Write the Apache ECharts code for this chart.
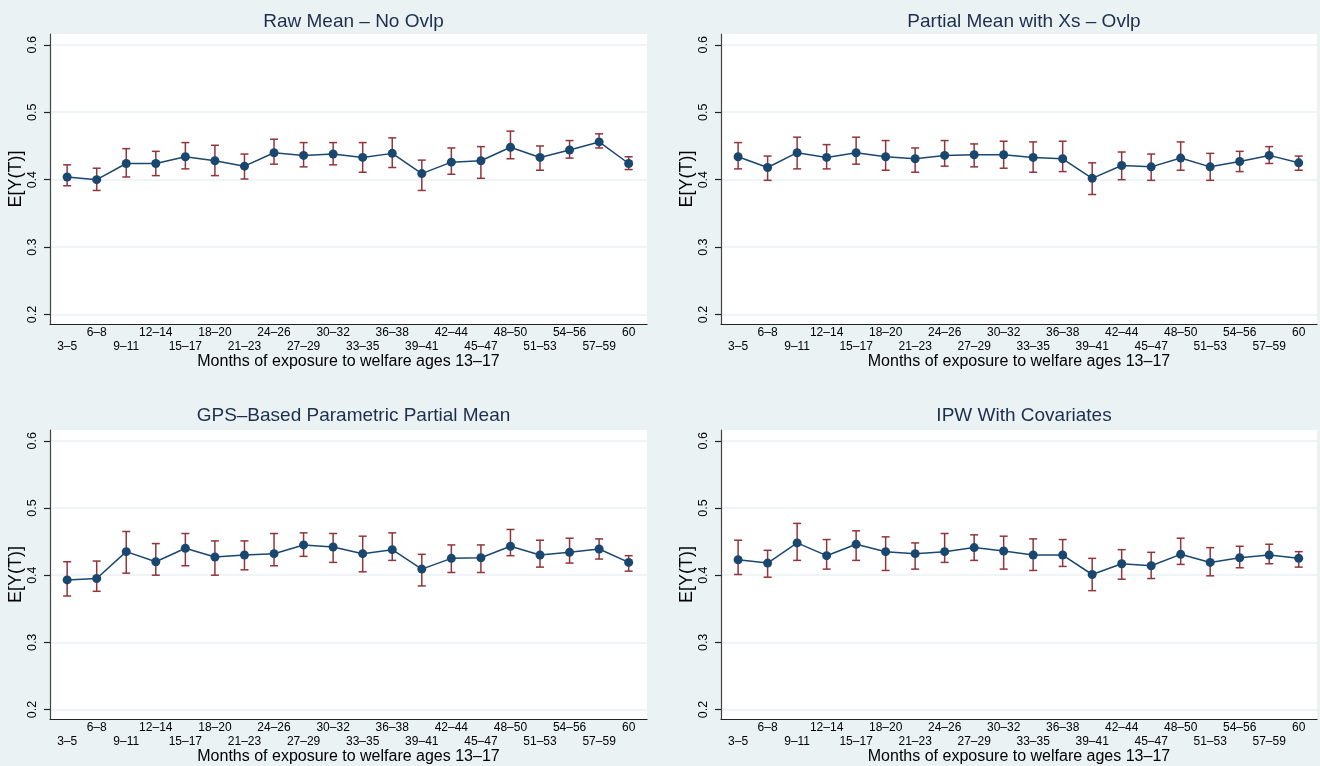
<!DOCTYPE html>
<html>
<head>
<meta charset="utf-8">
<script src="https://cdn.jsdelivr.net/npm/echarts@6/dist/echarts.min.js"></script>
<style>
html,body{margin:0;padding:0;background:#eaf2f3;}
#chart{width:1320px;height:766px;}
</style>
</head>
<body>
<div id="chart"></div>
<script>
const categories = ['3–5','6–8','9–11','12–14','15–17','18–20','21–23','24–26','27–29','30–32','33–35','36–38','39–41','42–44','45–47','48–50','51–53','54–56','57–59','60'];
const yTicks = [0.2, 0.3, 0.4, 0.5, 0.6];
const titles = ['Raw Mean – No Ovlp', 'Partial Mean with Xs – Ovlp', 'GPS–Based Parametric Partial Mean', 'IPW With Covariates'];
const xTitle = 'Months of exposure to welfare ages 13–17';
const yTitle = 'E[Y(T)]';

const rawMean = [0.404,0.400,0.424,0.424,0.434,0.428,0.420,0.440,0.436,0.438,0.433,0.439,0.409,0.426,0.428,0.448,0.433,0.444,0.456,0.424];
const rawLo   = [0.391,0.384,0.404,0.406,0.416,0.406,0.401,0.423,0.419,0.422,0.411,0.418,0.384,0.408,0.402,0.431,0.414,0.432,0.447,0.415];
const rawHi   = [0.422,0.417,0.446,0.442,0.455,0.451,0.438,0.460,0.455,0.455,0.455,0.462,0.429,0.447,0.449,0.472,0.450,0.458,0.468,0.434];

const pmMean = [0.434,0.418,0.440,0.433,0.440,0.434,0.431,0.436,0.437,0.437,0.433,0.431,0.402,0.421,0.419,0.432,0.419,0.427,0.436,0.425];
const pmLo   = [0.416,0.399,0.416,0.416,0.423,0.414,0.411,0.420,0.419,0.417,0.411,0.412,0.378,0.400,0.399,0.414,0.399,0.412,0.424,0.414];
const pmHi   = [0.455,0.435,0.463,0.452,0.463,0.458,0.447,0.458,0.453,0.457,0.456,0.457,0.425,0.441,0.438,0.456,0.439,0.442,0.449,0.435];

const gpsMean = [0.393,0.395,0.435,0.420,0.440,0.427,0.430,0.432,0.445,0.442,0.432,0.438,0.409,0.425,0.426,0.443,0.430,0.434,0.439,0.419];
const gpsLo   = [0.369,0.376,0.403,0.400,0.414,0.400,0.408,0.414,0.428,0.419,0.405,0.422,0.384,0.404,0.404,0.429,0.412,0.418,0.424,0.406];
const gpsHi   = [0.420,0.421,0.465,0.447,0.462,0.451,0.451,0.462,0.463,0.462,0.458,0.463,0.431,0.445,0.445,0.468,0.452,0.455,0.454,0.429];

const ipwMean = [0.423,0.418,0.448,0.429,0.446,0.435,0.432,0.435,0.441,0.436,0.430,0.430,0.401,0.417,0.414,0.431,0.419,0.426,0.430,0.425];
const ipwLo   = [0.401,0.397,0.422,0.409,0.422,0.407,0.409,0.419,0.422,0.409,0.407,0.413,0.377,0.394,0.395,0.416,0.399,0.411,0.417,0.412];
const ipwHi   = [0.452,0.437,0.477,0.453,0.466,0.457,0.448,0.462,0.460,0.458,0.454,0.453,0.425,0.438,0.434,0.455,0.441,0.443,0.446,0.435];

const panels = [
  {mean: rawMean, lo: rawLo, hi: rawHi},
  {mean: pmMean, lo: pmLo, hi: pmHi},
  {mean: gpsMean, lo: gpsLo, hi: gpsHi},
  {mean: ipwMean, lo: ipwLo, hi: ipwHi}
];

const FONT = '"Liberation Sans", Arial, sans-serif';
const NAVY = '#1a476f';
const MAROON = '#90353b';
const BG = '#eaf2f3';

const layout = [
  {left: 50, top: 34, width: 597, height: 290, titleTop: 7},
  {left: 721, top: 34, width: 596, height: 290, titleTop: 7},
  {left: 50, top: 430, width: 597, height: 289, titleTop: 401},
  {left: 721, top: 430, width: 596, height: 289, titleTop: 401}
];

const xIdx = categories.map((c, i) => i);

const option = {
  backgroundColor: BG,
  animation: false,
  title: layout.map((g, i) => ({
    text: titles[i],
    left: g.left + g.width / 2,
    top: g.titleTop,
    textAlign: 'center',
    textStyle: {fontFamily: FONT, fontSize: 19, fontWeight: 'normal', color: '#1e2e4e'}
  })),
  grid: layout.map(g => ({
    left: g.left, top: g.top, width: g.width, height: g.height,
    show: true, backgroundColor: '#ffffff', borderWidth: 0
  })),
  xAxis: layout.map((g, i) => ({
    type: 'value', gridIndex: i, min: -0.58, max: 19.62,
    name: xTitle, nameLocation: 'middle', nameGap: 28,
    nameTextStyle: {fontFamily: FONT, fontSize: 16, color: '#000'},
    axisLine: {show: true, onZero: false, lineStyle: {color: '#222', width: 1.2}},
    axisTick: {show: false},
    splitLine: {show: false},
    axisLabel: {
      customValues: xIdx,
      margin: 2,
      fontFamily: FONT, fontSize: 12, color: '#000', lineHeight: 13.5,
      formatter: v => {
        const k = Math.round(v);
        return k % 2 === 0 ? '\n' + categories[k] : categories[k];
      }
    }
  })),
  yAxis: layout.map((g, i) => ({
    type: 'value', gridIndex: i, min: 0.186, max: 0.616,
    name: yTitle, nameLocation: 'middle', nameGap: 23,
    nameTextStyle: {fontFamily: FONT, fontSize: 18, color: '#000'},
    axisLine: {show: true, onZero: false, lineStyle: {color: '#444', width: 1.2}},
    axisTick: {show: true, customValues: yTicks, length: 6, lineStyle: {color: '#222', width: 1.2}},
    splitLine: {show: true, customValues: yTicks, lineStyle: {color: BG, width: 1.5}},
    axisLabel: {
      customValues: yTicks, rotate: 90, margin: 11,
      fontFamily: FONT, fontSize: 12.5, color: '#000',
      formatter: v => v.toFixed(1)
    }
  })),
  series: []
};

panels.forEach((p, i) => {
  option.series.push({
    type: 'custom', xAxisIndex: i, yAxisIndex: i, z: 2,
    data: p.mean.map((m, k) => [k, p.lo[k], p.hi[k]]),
    renderItem: (params, api) => {
      const x = api.value(0);
      const lo = api.coord([x, api.value(1)]);
      const hi = api.coord([x, api.value(2)]);
      const cap = 4;
      const style = {stroke: MAROON, lineWidth: 1.5, fill: null};
      return {
        type: 'group',
        children: [
          {type: 'line', shape: {x1: lo[0], y1: lo[1], x2: hi[0], y2: hi[1]}, style},
          {type: 'line', shape: {x1: lo[0] - cap, y1: lo[1], x2: lo[0] + cap, y2: lo[1]}, style},
          {type: 'line', shape: {x1: hi[0] - cap, y1: hi[1], x2: hi[0] + cap, y2: hi[1]}, style}
        ]
      };
    }
  });
  option.series.push({
    type: 'line', xAxisIndex: i, yAxisIndex: i, z: 3,
    data: p.mean.map((m, k) => [k, m]),
    symbol: 'circle', symbolSize: 9,
    lineStyle: {color: NAVY, width: 1.5},
    itemStyle: {color: NAVY}
  });
});

const chart = echarts.init(document.getElementById('chart'), null, {renderer: 'canvas'});
chart.setOption(option);
</script>
</body>
</html>
